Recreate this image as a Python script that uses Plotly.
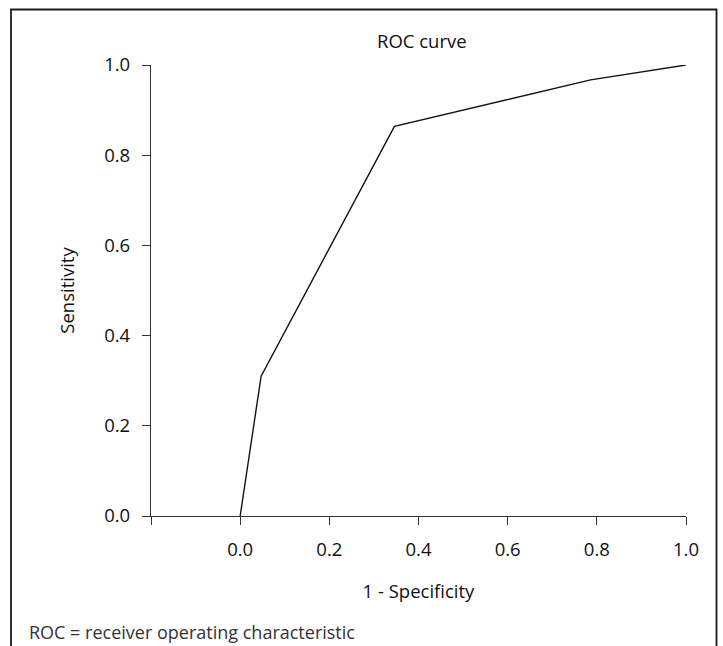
import plotly.graph_objects as go

# Data
fpr = [0.0, 0.047, 0.346, 0.786, 1.0]
tpr = [0.0, 0.31, 0.864, 0.967, 1.0]
x_tickvals = [-0.2, 0.0, 0.2, 0.4, 0.6, 0.8, 1.0]
x_ticktext = ["", "0.0", "0.2", "0.4", "0.6", "0.8", "1.0"]
y_tickvals = [0.0, 0.2, 0.4, 0.6, 0.8, 1.0]
y_ticktext = ["0.0", "0.2", "0.4", "0.6", "0.8", "1.0"]
title_text = "ROC curve"
x_title = "1 - Specificity"
y_title = "Sensitivity"
caption = "ROC = receiver operating characteristic"

W, H = 723, 646
L, R, T, B = 151, 37, 65, 130
pw, ph = W - L - R, H - T - B

FONT = "Open Sans"
FS = 18.5

fig = go.Figure()
fig.add_trace(go.Scatter(x=fpr, y=tpr, mode="lines",
                         line=dict(color="#111111", width=1.4),
                         showlegend=False, hoverinfo="skip"))

axis_common = dict(showline=True, linecolor="#333333", linewidth=1.2,
                   ticks="outside", ticklen=8, tickwidth=1.2, tickcolor="#333333",
                   showgrid=False, zeroline=False,
                   tickfont=dict(family=FONT, size=FS, color="#111111"))

fig.update_layout(
    width=W, height=H,
    margin=dict(l=L, r=R, t=T, b=B, pad=0),
    paper_bgcolor="white", plot_bgcolor="white",
    xaxis=dict(range=[-0.2, 1.0], tickvals=x_tickvals, ticktext=x_ticktext,
               ticklabelstandoff=9,
               title=dict(text=x_title, font=dict(family=FONT, size=FS, color="#111111"),
                          standoff=24),
               **axis_common),
    yaxis=dict(range=[0.0, 1.0], tickvals=y_tickvals, ticktext=y_ticktext,
               ticklabelstandoff=8,
               title=dict(text=y_title, font=dict(family=FONT, size=FS, color="#111111"),
                          standoff=24),
               **axis_common),
    title=dict(text=title_text, x=366 / W, y=1 - 42 / H, xref="paper", yref="container",
               xanchor="center", yanchor="middle",
               font=dict(family=FONT, size=FS, color="#111111")),
)

# caption
fig.add_annotation(text=caption, xref="paper", yref="paper",
                   x=(27 - L) / pw, y=(516 - 632) / ph,
                   xanchor="left", yanchor="middle", showarrow=False,
                   font=dict(family=FONT, size=18, color="#333333"))

# outer frame: a path in paper coordinates (open at the bottom)
fx0, fx1 = (11 - L) / pw, (716.5 - L) / pw
fy0, fy1 = (516 - 660) / ph, (516 - 9.5) / ph
fig.add_shape(type="path", xref="paper", yref="paper",
              path=f"M {fx0} {fy0} L {fx0} {fy1} L {fx1} {fy1} L {fx1} {fy0}",
              line=dict(color="#1a1a1a", width=1.8), layer="above")

fig.write_html("out.html")
